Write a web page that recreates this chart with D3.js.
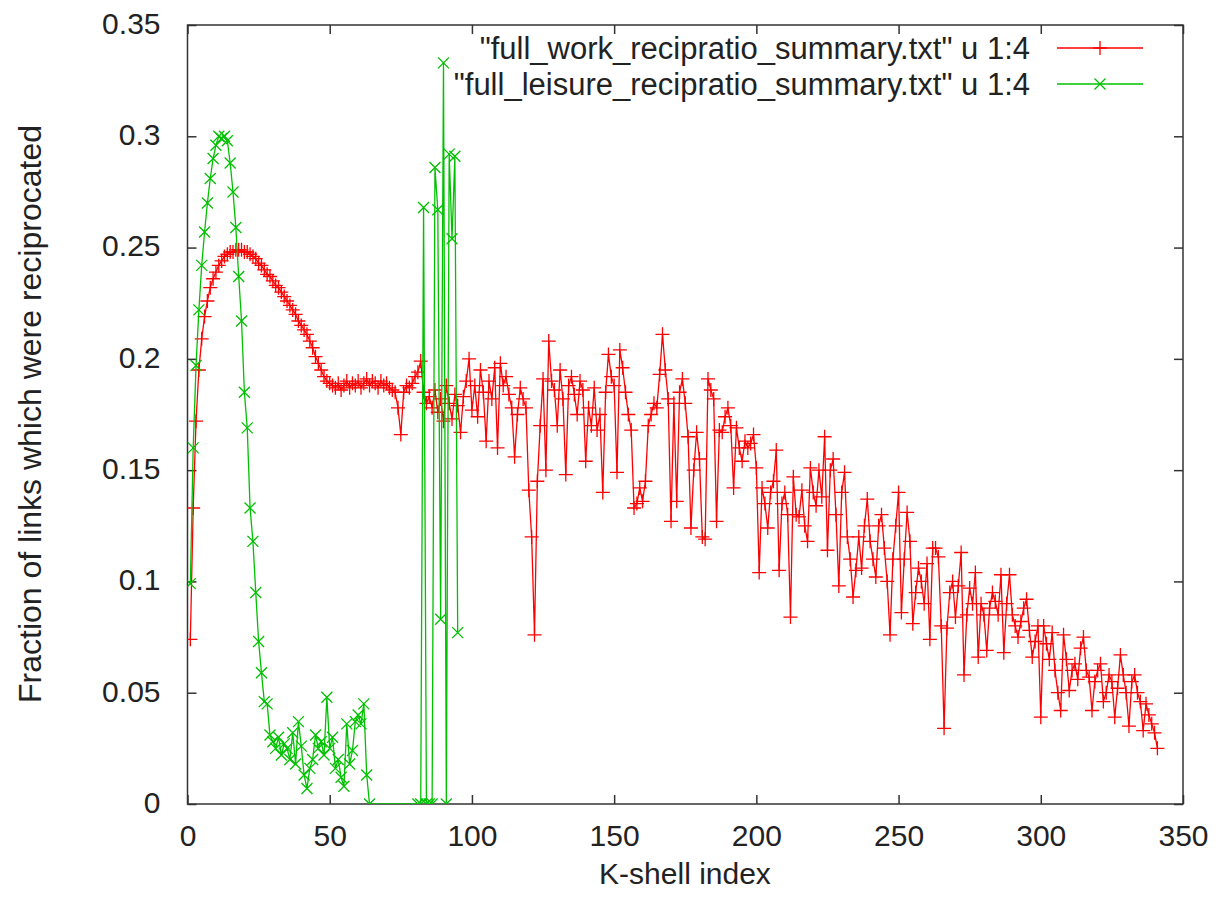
<!DOCTYPE html>
<html>
<head>
<meta charset="utf-8">
<script src="https://cdn.jsdelivr.net/npm/d3@7"></script>
<style>
  html, body { margin: 0; padding: 0; background: #fff; }
  svg text { font-family: "Liberation Sans", Arial, sans-serif; fill: #222; }
</style>
</head>
<body>
<svg id="chart" width="1220" height="907"></svg>
<script>
// ---------- data ----------
const workStartK = 1;
const workValues = [
  0.074,0.133,0.172,0.195,0.209,0.219,0.226,0.232,0.236,0.239,
  0.242,0.244,0.246,0.247,0.248,0.248,0.249,0.249,0.249,0.248,
  0.248,0.247,0.246,0.245,0.243,0.242,0.240,0.238,0.237,0.235,
  0.233,0.232,0.230,0.228,0.226,0.224,0.222,0.220,0.217,0.215,
  0.213,0.211,0.208,0.205,0.201,0.198,0.195,0.192,0.190,0.189,
  0.188,0.187,0.189,0.186,0.188,0.190,0.187,0.189,0.188,0.190,
  0.187,0.189,0.191,0.188,0.190,0.189,0.187,0.190,0.188,0.189,
  0.187,0.186,0.185,0.178,0.166,0.185,0.188,0.187,0.189,0.192,
  0.194,0.199,0.185,0.180,0.183,0.178,0.186,0.176,0.182,0.172,
  0.188,0.180,0.173,0.184,0.179,0.167,0.183,0.190,0.200,0.177,
  0.188,0.174,0.195,0.185,0.163,0.190,0.182,0.196,0.160,0.198,
  0.188,0.192,0.184,0.178,0.156,0.175,0.187,0.182,0.178,0.141,
  0.120,0.076,0.145,0.170,0.191,0.150,0.208,0.190,0.186,0.170,
  0.195,0.182,0.148,0.188,0.192,0.184,0.175,0.190,0.186,0.154,
  0.178,0.170,0.187,0.168,0.175,0.140,0.185,0.202,0.192,0.188,
  0.149,0.204,0.196,0.185,0.175,0.168,0.133,0.135,0.142,0.136,
  0.145,0.170,0.175,0.180,0.178,0.193,0.211,0.195,0.182,0.127,
  0.180,0.136,0.185,0.191,0.180,0.165,0.124,0.150,0.167,0.155,
  0.120,0.119,0.191,0.186,0.182,0.127,0.168,0.167,0.174,0.178,
  0.170,0.142,0.169,0.160,0.154,0.163,0.160,0.162,0.166,0.151,
  0.104,0.142,0.135,0.124,0.140,0.145,0.159,0.105,0.135,0.140,
  0.130,0.084,0.147,0.130,0.129,0.141,0.125,0.118,0.151,0.140,
  0.134,0.150,0.138,0.165,0.114,0.150,0.155,0.130,0.098,0.140,
  0.149,0.120,0.110,0.093,0.105,0.120,0.106,0.125,0.137,0.118,
  0.110,0.102,0.125,0.130,0.115,0.100,0.076,0.110,0.125,0.140,
  0.086,0.110,0.131,0.118,0.081,0.095,0.106,0.100,0.090,0.108,
  0.074,0.115,0.115,0.111,0.080,0.034,0.079,0.095,0.100,0.084,
  0.098,0.113,0.058,0.085,0.097,0.090,0.104,0.066,0.090,0.085,
  0.069,0.088,0.095,0.091,0.085,0.103,0.068,0.090,0.103,0.085,
  0.080,0.075,0.082,0.088,0.092,0.078,0.066,0.073,0.080,0.039,
  0.080,0.072,0.065,0.077,0.060,0.050,0.042,0.076,0.065,0.051,
  0.060,0.063,0.056,0.070,0.075,0.060,0.057,0.042,0.055,0.060,
  0.063,0.046,0.050,0.058,0.055,0.039,0.052,0.067,0.058,0.050,
  0.035,0.055,0.058,0.050,0.046,0.033,0.045,0.040,0.036,0.032,
  0.025
];
const leisureStartA = 1;
const leisureValuesA = [
  0.099,0.160,0.197,0.222,0.242,0.257,0.270,0.281,0.290,0.296,
  0.300,0.299,0.300,0.298,0.288,0.275,0.259,0.237,0.217,0.185,
  0.169,0.133,0.118,0.095,0.073,0.059,0.046,0.045,0.031,0.028,
  0.025,0.030,0.022,0.027,0.025,0.020,0.032,0.018,0.037,0.026,
  0.013,0.007,0.016,0.020,0.031,0.025,0.028,0.022,0.048,0.025,
  0.030,0.016,0.020,0.012,0.008,0.036,0.018,0.024,0.037,0.040,
  0.036,0.045,0.013,0.000
];
const leisureStartB = 81;
const leisureValuesB = [
  0.000,0.000,0.268,0.000,0.000,0.000,0.286,0.267,0.083,0.333,
  0.000,0.292,0.254,0.291,0.077
];
const xTicks = [0,50,100,150,200,250,300,350];
const yTicks = [0,0.05,0.1,0.15,0.2,0.25,0.3,0.35];
const seriesNames = [
  '"full_work_recipratio_summary.txt" u 1:4',
  '"full_leisure_recipratio_summary.txt" u 1:4'
];
const seriesColors = ["#ff0000", "#00c000"];
const xTitle = "K-shell index";
const yTitle = "Fraction of links which were reciprocated";

// ---------- build ----------
const work = workValues.map((v, i) => ({k: workStartK + i, v}));
const leisure = leisureValuesA.map((v, i) => ({k: leisureStartA + i, v}))
  .concat(leisureValuesB.map((v, i) => ({k: leisureStartB + i, v})));

const svg = d3.select("#chart");
const L = 187.5, R = 1183, T = 25, B = 804;
const x = d3.scaleLinear().domain([0, 350]).range([L, R]);
const y = d3.scaleLinear().domain([0, 0.35]).range([B, T]);
const FS = 30;

svg.append("clipPath").attr("id", "clip").append("rect")
  .attr("x", L).attr("y", T).attr("width", R - L).attr("height", B - T);

const axStroke = "#333";
function styleAxis(g) {
  g.select(".domain").remove();
  g.selectAll(".tick line").attr("stroke", axStroke).attr("stroke-width", 1.5);
  g.selectAll("text").attr("font-size", FS).attr("fill", "#222")
    .style("font-family", '"Liberation Sans", Arial, sans-serif');
}
svg.append("g").attr("transform", `translate(0,${B})`)
  .call(d3.axisBottom(x).tickValues(xTicks).tickSize(-9).tickPadding(21).tickFormat(d3.format("d")))
  .call(styleAxis);
svg.append("g").attr("transform", `translate(0,${T})`)
  .call(d3.axisTop(x).tickValues(xTicks).tickSize(-9).tickFormat(""))
  .call(styleAxis);
svg.append("g").attr("transform", `translate(${L},0)`)
  .call(d3.axisLeft(y).tickValues(yTicks).tickSize(-9).tickPadding(27).tickFormat(d => d === 0 ? "0" : d3.format("")(+d.toFixed(2))))
  .call(styleAxis)
  .selectAll("text").attr("dy", "0.28em");
svg.append("g").attr("transform", `translate(${R},0)`)
  .call(d3.axisRight(y).tickValues(yTicks).tickSize(-9).tickFormat(""))
  .call(styleAxis);

svg.append("rect").attr("x", L).attr("y", T).attr("width", R - L).attr("height", B - T)
  .attr("fill", "none").attr("stroke", axStroke).attr("stroke-width", 1.5);

svg.append("text").attr("x", 685).attr("y", 884).attr("text-anchor", "middle")
  .attr("font-size", FS).text(xTitle);
svg.append("text").attr("transform", "translate(41,414) rotate(-90)")
  .attr("text-anchor", "middle").attr("font-size", 32).text(yTitle);

const plusPath = s => `M${-s},0H${s}M0,${-s}V${s}`;
const crossPath = s => `M${-s},${-s}L${s},${s}M${-s},${s}L${s},${-s}`;

const line = d3.line().x(d => x(d.k)).y(d => y(d.v));
const plot = svg.append("g").attr("clip-path", "url(#clip)");

function drawSeries(data, color, pathFn, size) {
  const g = plot.append("g");
  g.append("path").datum(data).attr("d", line).attr("fill", "none")
    .attr("stroke", color).attr("stroke-width", 1.3);
  g.selectAll("path.m").data(data).join("path").attr("class", "m")
    .attr("transform", d => `translate(${x(d.k)},${y(d.v)})`)
    .attr("d", pathFn(size)).attr("fill", "none")
    .attr("stroke", color).attr("stroke-width", 1.3);
}
drawSeries(work, seriesColors[0], plusPath, 7);
drawSeries(leisure, seriesColors[1], crossPath, 5.5);

const legend = svg.append("g");
const legendRows = [48, 84];
seriesNames.forEach((name, i) => {
  const ly = legendRows[i];
  legend.append("text").attr("x", 1030).attr("y", ly).attr("dy", "0.35em")
    .attr("text-anchor", "end").attr("font-size", 31).text(name);
  legend.append("line").attr("x1", 1057).attr("x2", 1143).attr("y1", ly).attr("y2", ly)
    .attr("stroke", seriesColors[i]).attr("stroke-width", 1.3);
  legend.append("path").attr("transform", `translate(1100,${ly})`)
    .attr("d", i === 0 ? plusPath(7) : crossPath(5.5))
    .attr("fill", "none").attr("stroke", seriesColors[i]).attr("stroke-width", 1.3);
});
</script>
</body>
</html>
